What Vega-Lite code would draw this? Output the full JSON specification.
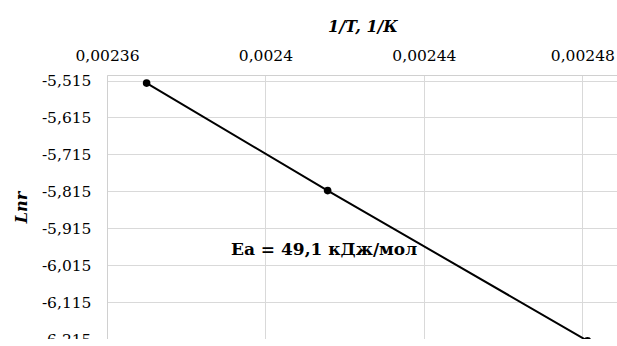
{
  "$schema": "https://vega.github.io/schema/vega-lite/v6.json",
  "width": 511,
  "height": 264,
  "autosize": "none",
  "padding": {"left": 107, "top": 75, "right": 0, "bottom": 0},
  "background": "white",
  "config": {
    "view": {"stroke": null},
    "font": "DejaVu Serif",
    "axis": {
      "labelFont": "DejaVu Serif",
      "labelFontSize": 15.5,
      "labelColor": "#000000",
      "titleFont": "DejaVu Serif",
      "titleFontSize": 16,
      "titleFontWeight": "bold",
      "titleFontStyle": "italic",
      "titleColor": "#000000",
      "gridColor": "#d9d9d9",
      "gridWidth": 1,
      "domainColor": "#d0d0d0",
      "domainWidth": 1,
      "ticks": false,
      "tickSize": 0
    }
  },
  "datasets": {
    "pts": [
      {"x": 0.00237, "y": -5.522},
      {"x": 0.0024157, "y": -5.813},
      {"x": 0.0024813, "y": -6.220}
    ],
    "ann": [
      {"x": 0.0024148, "y": -5.974, "label": "Ea = 49,1 кДж/мол"}
    ]
  },
  "layer": [
    {
      "data": {"name": "pts"},
      "mark": {"type": "line", "color": "#000000", "strokeWidth": 2, "clip": false},
      "encoding": {
        "x": {
          "field": "x", "type": "quantitative",
          "scale": {"domain": [0.00236, 0.002489], "zero": false, "nice": false},
          "axis": {
            "orient": "top",
            "title": "1/T,  1/К",
            "values": [0.00236, 0.0024, 0.00244, 0.00248],
            "tickCount": 30,
            "labelExpr": "replace(toString(datum.value), '.', ',')",
            "labelPadding": 12,
            "titlePadding": 14,
            "labelFlush": false,
            "labelOverlap": false
          }
        },
        "y": {
          "field": "y", "type": "quantitative",
          "scale": {"domain": [-6.215, -5.5], "zero": false, "nice": false},
          "axis": {
            "title": "Lnr",
            "values": [-5.515, -5.615, -5.715, -5.815, -5.915, -6.015, -6.115, -6.215],
            "tickCount": 30,
            "labelExpr": "replace(toString(datum.value), '.', ',')",
            "labelPadding": 16,
            "titlePadding": 12,
            "labelFlush": false,
            "labelOverlap": false
          }
        }
      }
    },
    {
      "data": {"name": "pts"},
      "mark": {"type": "point", "filled": true, "color": "#000000", "size": 58, "opacity": 1, "clip": false},
      "encoding": {
        "x": {"field": "x", "type": "quantitative"},
        "y": {"field": "y", "type": "quantitative"}
      }
    },
    {
      "data": {"name": "ann"},
      "mark": {"type": "text", "font": "DejaVu Serif", "fontSize": 17, "fontWeight": "bold", "color": "#000000", "align": "center", "baseline": "middle"},
      "encoding": {
        "x": {"field": "x", "type": "quantitative"},
        "y": {"field": "y", "type": "quantitative"},
        "text": {"field": "label"}
      }
    }
  ]
}
